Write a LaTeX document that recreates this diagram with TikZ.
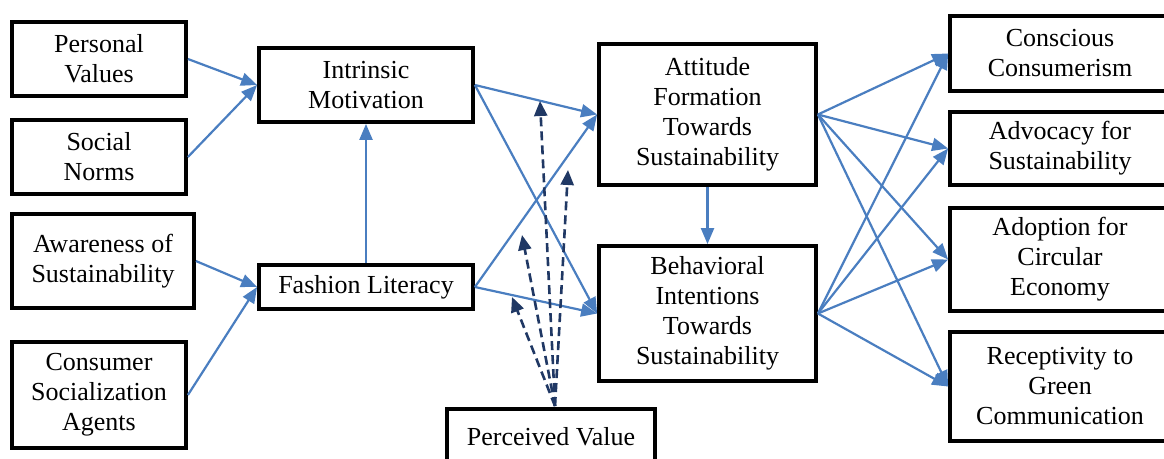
\documentclass[tikz,border=0pt]{standalone}
\usepackage{fontspec}
\setmainfont{Liberation Serif}
\usepackage{tikz}
\usetikzlibrary{arrows.meta}
\definecolor{frame}{HTML}{000000}
\definecolor{edge}{HTML}{4A7EC0}
\definecolor{modline}{HTML}{203864}
\tikzset{
  cbox/.style={draw=frame, line width=3.8pt, fill=white, align=center, inner sep=2pt,
    font=\fontsize{26}{30}\selectfont},
  link/.style={draw=edge, line width=2.2pt, -{Triangle[length=16pt,width=13pt]}},
  modlink/.style={draw=modline, line width=2.6pt, dash pattern=on 9pt off 5pt,
    -{Triangle[length=15pt,width=13pt]}}
}

\begin{document}
\begin{tikzpicture}[x=1pt,y=-1pt]
  \useasboundingbox (0,0) rectangle (1164,458);

  % antecedents
  \node[cbox, minimum width=174, minimum height=74] (pv) at (99,59) {Personal\\Values};
  \node[cbox, minimum width=174, minimum height=74] (sn) at (99,157) {Social\\Norms};
  \node[cbox, minimum width=182, minimum height=94] (aw) at (103,261) {Awareness of\\Sustainability};
  \node[cbox, minimum width=174, minimum height=106] (csa) at (99,395) {Consumer\\Socialization\\Agents};

  % mediators
  \node[cbox, minimum width=214, minimum height=74] (im) at (366,85) {Intrinsic\\Motivation};
  \node[cbox, minimum width=214, minimum height=44] (fl) at (366,287) {Fashion Literacy};
  \node[cbox, minimum width=208, minimum height=56] (pval) at (551,437) {Perceived Value};

  \node[cbox, minimum width=217, minimum height=141] (att) at (707.5,114.5) {Attitude\\Formation\\Towards\\Sustainability};
  \node[cbox, minimum width=217, minimum height=135] (bi) at (707.5,313.5) {Behavioral\\Intentions\\Towards\\Sustainability};

  % outcomes
  \node[cbox, minimum width=220, minimum height=75] (cc) at (1060,53.5) {Conscious\\Consumerism};
  \node[cbox, minimum width=220, minimum height=73] (adv) at (1060,148.5) {Advocacy for\\Sustainability};
  \node[cbox, minimum width=220, minimum height=103] (adp) at (1060,259.5) {Adoption for\\Circular\\Economy};
  \node[cbox, minimum width=220, minimum height=109] (rgc) at (1060,386.5) {Receptivity to\\Green\\Communication};

  % paths
  \draw[link] (pv.east) -- (im.west);
  \draw[link] (sn.east) -- (im.west);
  \draw[link] (aw.east) -- (fl.west);
  \draw[link] (csa.east) -- (fl.west);
  \draw[link] (fl.north) -- (im.south);
  \draw[link] (im.east) -- (att.west);
  \draw[link] (im.east) -- (bi.west);
  \draw[link] (fl.east) -- (att.west);
  \draw[link] (fl.east) -- (bi.west);
  \draw[link] (att.south) -- (bi.north);
  \foreach \out in {cc,adv,adp,rgc} {
    \draw[link] (att.east) -- (\out.west);
    \draw[link] (bi.east) -- (\out.west);
  }

  % moderating effects of perceived value
  \coordinate (pvtop) at (555,406);
  \coordinate (modA) at (540,101);
  \coordinate (modB) at (568,170);
  \coordinate (modC) at (522,235);
  \coordinate (modD) at (512,297);
  \foreach \m in {modA,modB,modC,modD}
    \draw[modlink] (pvtop) -- (\m);
\end{tikzpicture}
\end{document}
